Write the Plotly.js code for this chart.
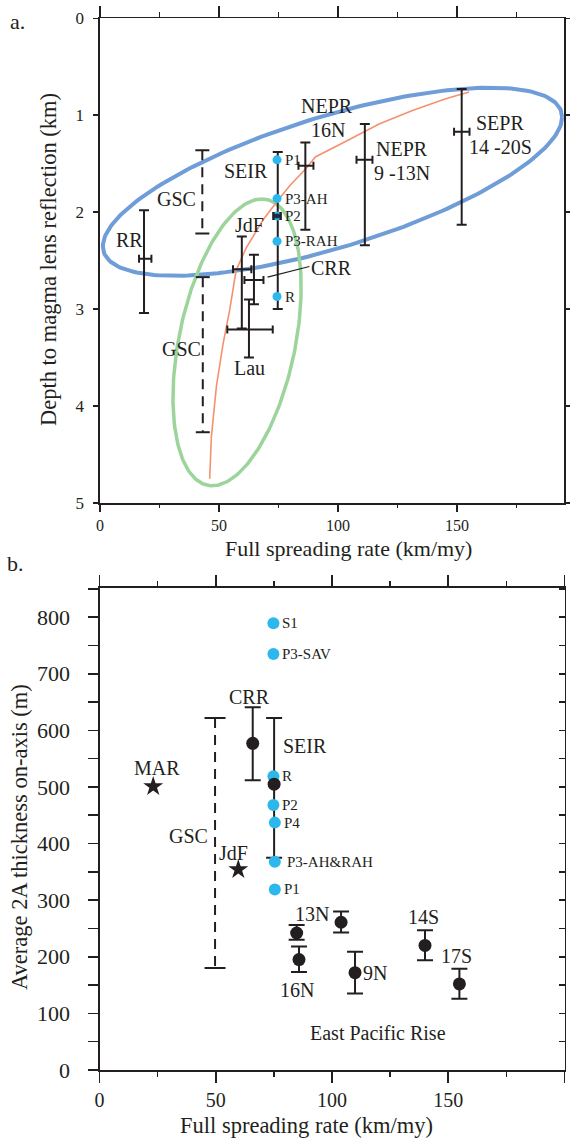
<!DOCTYPE html>
<html>
<head>
<meta charset="utf-8">
<script src="https://cdn.plot.ly/plotly-3.0.1.min.js"></script>
<style>html,body{margin:0;padding:0;background:#fff;}</style>
</head>
<body>
<div id="chart" style="width:570px;height:1141px;"></div>
<script>
// ================= Panel a data (depth to magma lens, km) =================
const aBarNames = ['RR', 'NEPR 16N', 'NEPR 9-13N', 'SEPR 14-20S', 'JdF', 'CRR', 'Lau'];
const aBarX     = [18.5, 86.3, 111.3, 152.0, 59.6, 64.7, 62.6];
const aBarY     = [2.48, 1.52, 1.46, 1.17, 2.59, 2.70, 3.21];
const aBarYTop  = [1.98, 1.28, 1.09, 0.73, 2.25, 2.44, 2.90];
const aBarYBot  = [3.04, 2.18, 2.34, 2.13, 3.20, 2.95, 3.50];
const aBarXLo   = [16.4, 83.4, 107.8, 148.8, 55.9, 60.7, 53.5];
const aBarXHi   = [21.6, 89.7, 114.5, 155.3, 63.6, 68.7, 72.6];

const aSeirX = 74.7, aSeirTop = 1.38, aSeirBot = 3.00;

const aGscX   = [43.0, 43.2];
const aGscTop = [1.36, 2.67];
const aGscBot = [2.22, 4.27];

const aBlueNames = ['P1', 'P3-AH', 'P2', 'P3-RAH', 'R'];
const aBlueX     = [74.4, 74.4, 74.4, 74.4, 74.4];
const aBlueY     = [1.46, 1.86, 2.04, 2.30, 2.87];
const aP2Err     = 1.5;

// orange trend line
const aTrendX = [46.1, 46.8, 48.9, 51.7, 54.5, 57.2, 61.4, 64.5, 68.5, 74.7, 80.0, 86.6, 90.5, 104.8, 117.3, 131.3, 145.3, 155.1];
const aTrendY = [4.75, 4.32, 3.80, 3.36, 3.01, 2.60, 2.37, 2.24, 2.08, 1.88, 1.72, 1.55, 1.43, 1.25, 1.09, 0.95, 0.83, 0.76];

// ellipses: centre + two conjugate semi-diameters (data units)
const blueEll  = {cx: 97.7, cy: 1.686, ux: 96.5, uy: -0.666, vx: 0.0, vy: 0.705};
const greenEll = {cx: 57.6, cy: 3.343, ux: 10.4, uy: -1.479, vx: 24.85, vy: 0.0};

// ================= Panel b data (layer 2A thickness, m) =================
const bBlackNames = ['CRR', 'SEIR', 'EPR', 'EPR 16N', 'EPR', 'EPR 9N', 'EPR 14S', 'EPR 17S'];
const bBlackX   = [65.9, 75.1, 84.8, 85.8, 103.9, 109.9, 140.0, 154.8];
const bBlackY   = [577, 505, 242, 195, 261, 172, 220, 152];
const bBlackTop = [641, 622, 256, 218, 280, 209, 247, 179];
const bBlackBot = [512, 375, 230, 173, 243, 135, 194, 126];

const bBlueNames = ['S1', 'P3-SAV', 'R', 'P2', 'P4', 'P3-AH&RAH', 'P1'];
const bBlueX     = [74.8, 74.8, 74.8, 74.8, 75.4, 75.4, 75.4];
const bBlueY     = [789, 735, 519, 468, 437, 368, 319];

const bGscX = 49.7, bGscTop = 622, bGscBot = 180;

const bStarNames = ['MAR', 'JdF'];
const bStarX     = [23.1, 59.7];
const bStarY     = [501, 354];

// ================= styling =================
const FONT = 'Liberation Serif';
const INK = '#231f20';
const DOT = '#2cb8ec';
const W = 570, H = 1141;
const px = v => v / W;
const py = v => 1 - v / H;

function ellipse(e, n) {
  const xs = [], ys = [];
  for (let i = 0; i <= n; i++) {
    const t = 2 * Math.PI * i / n;
    xs.push(e.cx + e.ux * Math.cos(t) + e.vx * Math.sin(t));
    ys.push(e.cy + e.uy * Math.cos(t) + e.vy * Math.sin(t));
  }
  return {xs, ys};
}
const be = ellipse(blueEll, 240), ge = ellipse(greenEll, 240);

function dashedSegs(xs, tops, bots) {
  const x = [], y = [];
  xs.forEach((v, i) => { x.push(v, v, null); y.push(tops[i], bots[i], null); });
  return {x, y};
}
const aG = dashedSegs(aGscX, aGscTop, aGscBot);
const bG = dashedSegs([bGscX], [bGscTop], [bGscBot]);

const traces = [
  {x: be.xs, y: be.ys, mode: 'lines', line: {color: '#6f9dd8', width: 4}, hoverinfo: 'skip', xaxis: 'x', yaxis: 'y'},
  {x: ge.xs, y: ge.ys, mode: 'lines', line: {color: '#9dd49b', width: 3.5}, hoverinfo: 'skip', xaxis: 'x', yaxis: 'y'},
  {x: aTrendX, y: aTrendY, mode: 'lines', line: {color: '#f4916f', width: 1.6}, hoverinfo: 'skip', xaxis: 'x', yaxis: 'y'},
  {x: aG.x, y: aG.y, mode: 'lines+markers', line: {color: INK, width: 2, dash: '10px,7px'},
   marker: {symbol: 'line-ew', size: 10, line: {color: INK, width: 2}}, xaxis: 'x', yaxis: 'y'},
  {x: aBarX, y: aBarY, text: aBarNames, mode: 'markers', marker: {size: 1, color: INK},
   error_y: {type: 'data', symmetric: false, array: aBarYBot.map((v, i) => v - aBarY[i]), arrayminus: aBarY.map((v, i) => v - aBarYTop[i]), color: INK, thickness: 2, width: 5},
   error_x: {type: 'data', symmetric: false, array: aBarXHi.map((v, i) => v - aBarX[i]), arrayminus: aBarX.map((v, i) => v - aBarXLo[i]), color: INK, thickness: 2, width: 4},
   xaxis: 'x', yaxis: 'y'},
  {x: [aSeirX], y: [(aSeirTop + aSeirBot) / 2], mode: 'markers', marker: {size: 1, color: INK},
   error_y: {type: 'data', symmetric: true, array: [(aSeirBot - aSeirTop) / 2], color: INK, thickness: 2, width: 5},
   xaxis: 'x', yaxis: 'y'},
  {x: aBlueX, y: aBlueY, text: aBlueNames, mode: 'markers', marker: {size: 9, color: DOT}, xaxis: 'x', yaxis: 'y'},
  {x: [aBlueX[2]], y: [aBlueY[2]], mode: 'markers', marker: {size: 5, color: '#1b2a4a'},
   error_x: {type: 'data', array: [aP2Err], color: INK, thickness: 2.5, width: 4}, xaxis: 'x', yaxis: 'y'},
  {x: [], y: [], xaxis: 'x2', yaxis: 'y2', hoverinfo: 'skip'},
  {x: [], y: [], xaxis: 'x', yaxis: 'y5', hoverinfo: 'skip'},

  // panel b
  {x: bG.x, y: bG.y, mode: 'lines+markers', line: {color: INK, width: 2, dash: '10px,7px'},
   marker: {symbol: 'line-ew', size: 15, line: {color: INK, width: 2}}, xaxis: 'x3', yaxis: 'y3'},
  {x: bBlackX, y: bBlackY, text: bBlackNames, mode: 'markers', marker: {size: 1, color: INK},
   error_y: {type: 'data', symmetric: false, array: bBlackTop.map((v, i) => v - bBlackY[i]), arrayminus: bBlackY.map((v, i) => v - bBlackBot[i]), color: INK, thickness: 2, width: 8},
   xaxis: 'x3', yaxis: 'y3'},
  {x: bBlueX, y: bBlueY, text: bBlueNames, mode: 'markers', marker: {size: 12, color: DOT}, xaxis: 'x3', yaxis: 'y3'},
  {x: bBlackX, y: bBlackY, text: bBlackNames, mode: 'markers', marker: {size: 13, color: INK}, xaxis: 'x3', yaxis: 'y3'},
  {x: bStarX, y: bStarY, text: bStarNames, mode: 'markers', marker: {symbol: 'star', size: 15, color: INK}, xaxis: 'x3', yaxis: 'y3'},
  {x: [], y: [], xaxis: 'x4', yaxis: 'y4', hoverinfo: 'skip'},
  {x: [], y: [], xaxis: 'x3', yaxis: 'y6', hoverinfo: 'skip'}
];

const axBase = {showgrid: false, zeroline: false, showline: true, linecolor: INK, linewidth: 1.6,
  tickcolor: INK, tickwidth: 1.6, color: INK, fixedrange: true};
const labelAx = {showgrid: false, zeroline: false, showline: false, ticks: '', color: INK, fixedrange: true, side: 'left', anchor: 'free'};

const aDomX = [px(100), px(564)];
const bDomX = [px(99.5), px(564.5)];
const aDomY = [py(503), py(18.3)];
const bDomY = [py(1070), py(587.7)];

const ann = [];
function lab(text, x, y, xr, yr, size, extra) {
  ann.push(Object.assign({text, x, y, xref: xr, yref: yr, showarrow: false,
    font: {family: FONT, size, color: INK}, xanchor: 'center', yanchor: 'middle'}, extra || {}));
}
// panel letters & titles
lab('a.', px(17), py(21), 'paper', 'paper', 22);
lab('b.', px(15), py(563), 'paper', 'paper', 22);
lab('Full spreading rate (km/my)', px(348), py(549), 'paper', 'paper', 22);
lab('Full spreading rate (km/my)', px(306), py(1125), 'paper', 'paper', 22.5);
lab('Depth to magma lens reflection (km)', px(49), py(260), 'paper', 'paper', 22.5, {textangle: -90});
lab('Average 2A thickness on-axis (m)', px(19), py(837), 'paper', 'paper', 22.5, {textangle: -90});

// panel a labels
const A = ['x', 'y'];
lab('RR', 12.6, 2.29, ...A, 20);
lab('GSC', 32.3, 1.86, ...A, 20);
lab('GSC', 34.2, 3.41, ...A, 20);
lab('SEIR', 61.4, 1.57, ...A, 20);
lab('NEPR', 95.2, 0.90, ...A, 20);
lab('16N', 95.7, 1.155, ...A, 20);
lab('NEPR', 126.8, 1.35, ...A, 20);
lab('9 -13N', 126.8, 1.60, ...A, 20);
lab('SEPR', 168.3, 1.075, ...A, 20);
lab('14 -20S', 168.5, 1.327, ...A, 20);
lab('JdF', 62.9, 2.135, ...A, 20);
lab('CRR', 97.3, 2.58, ...A, 20);
lab('Lau', 62.9, 3.61, ...A, 20);
aBlueNames.forEach((n, i) => lab(n, aBlueX[i], aBlueY[i], ...A, 15, {xanchor: 'left', xshift: 6}));

// panel b labels
const B = ['x3', 'y3'];
lab('CRR', 64.7, 659, ...B, 20);
lab('SEIR', 88.3, 573, ...B, 20);
lab('MAR', 24.6, 533, ...B, 20);
lab('GSC', 38.2, 413, ...B, 20);
lab('JdF', 57.5, 384, ...B, 20);
lab('13N', 91.5, 276, ...B, 20);
lab('16N', 85.1, 142, ...B, 20);
lab('9N', 118.4, 171, ...B, 20);
lab('14S', 139.3, 270, ...B, 20);
lab('17S', 153.6, 201, ...B, 20);
lab('East Pacific Rise', 119.7, 66, ...B, 20);
bBlueNames.forEach((n, i) => lab(n, bBlueX[i], bBlueY[i], ...B, 15, {xanchor: 'left', xshift: n === 'P3-AH&RAH' ? 10 : 7}));

const layout = {
  width: W, height: H,
  margin: {l: 0, r: 0, t: 0, b: 0, pad: 0},
  paper_bgcolor: '#ffffff', plot_bgcolor: '#ffffff',
  showlegend: false,
  font: {family: FONT, color: INK},
  xaxis: Object.assign({}, axBase, {domain: aDomX, anchor: 'y', range: [0, 195], tickmode: 'linear', tick0: 0, dtick: 50,
    ticks: 'outside', ticklen: 7, tickfont: {family: FONT, size: 16, color: INK},
    minor: {dtick: 25, tick0: 0, ticks: 'outside', ticklen: 3.5, tickwidth: 1.6, tickcolor: INK}}),
  xaxis2: Object.assign({}, axBase, {overlaying: 'x', side: 'top', anchor: 'y', range: [0, 195], tickmode: 'linear', tick0: 0, dtick: 50,
    ticks: 'outside', ticklen: 11, showticklabels: false,
    minor: {dtick: 25, tick0: 0, ticks: 'outside', ticklen: 5, tickwidth: 1.6, tickcolor: INK}}),
  yaxis: Object.assign({}, axBase, {domain: aDomY, anchor: 'x', range: [5, 0], tickmode: 'linear', tick0: 0, dtick: 1,
    ticks: 'outside', ticklen: 5, showticklabels: false}),
  yaxis2: Object.assign({}, axBase, {overlaying: 'y', side: 'right', anchor: 'x', range: [5, 0], tickmode: 'linear', tick0: 0, dtick: 1,
    ticks: 'outside', ticklen: 6, showticklabels: false}),
  // tick-label carrier for panel a depth axis
  yaxis5: Object.assign({}, labelAx, {overlaying: 'y', position: px(84), range: [5, 0], tickmode: 'linear', tick0: 0, dtick: 1,
    tickfont: {family: FONT, size: 17, color: INK}}),

  xaxis3: Object.assign({}, axBase, {domain: bDomX, anchor: 'y3', range: [0, 200], tickmode: 'linear', tick0: 0, dtick: 50,
    ticks: 'outside', ticklen: 11, tickfont: {family: FONT, size: 20, color: INK},
    minor: {dtick: 25, tick0: 0, ticks: 'outside', ticklen: 5, tickwidth: 1.6, tickcolor: INK}}),
  xaxis4: Object.assign({}, axBase, {overlaying: 'x3', side: 'top', anchor: 'y3', range: [0, 200], tickmode: 'linear', tick0: 0, dtick: 50,
    ticks: 'outside', ticklen: 11, showticklabels: false,
    minor: {dtick: 25, tick0: 0, ticks: 'outside', ticklen: 5, tickwidth: 1.6, tickcolor: INK}}),
  yaxis3: Object.assign({}, axBase, {domain: bDomY, anchor: 'x3', range: [0, 852], tickmode: 'linear', tick0: 0, dtick: 100,
    ticks: 'outside', ticklen: 10, showticklabels: false,
    minor: {dtick: 50, tick0: 0, ticks: 'outside', ticklen: 10, tickwidth: 1.6, tickcolor: INK}}),
  yaxis4: Object.assign({}, axBase, {overlaying: 'y3', side: 'right', anchor: 'x3', range: [0, 852], tickmode: 'linear', tick0: 0, dtick: 50,
    ticks: 'inside', ticklen: 6, showticklabels: false}),
  // tick-label carrier for panel b thickness axis
  yaxis6: Object.assign({}, labelAx, {overlaying: 'y3', position: px(70), range: [0, 852], tickmode: 'linear', tick0: 0, dtick: 100,
    tickfont: {family: FONT, size: 22, color: INK}}),

  annotations: ann,
  shapes: [
    // leader line from CRR label to its bar (panel a)
    {type: 'line', xref: 'x', yref: 'y', x0: 70.4, y0: 2.67, x1: 88.0, y1: 2.56, line: {color: INK, width: 1.2}}
  ]
};

Plotly.newPlot('chart', traces, layout, {displayModeBar: false, staticPlot: true});
</script>
</body>
</html>
